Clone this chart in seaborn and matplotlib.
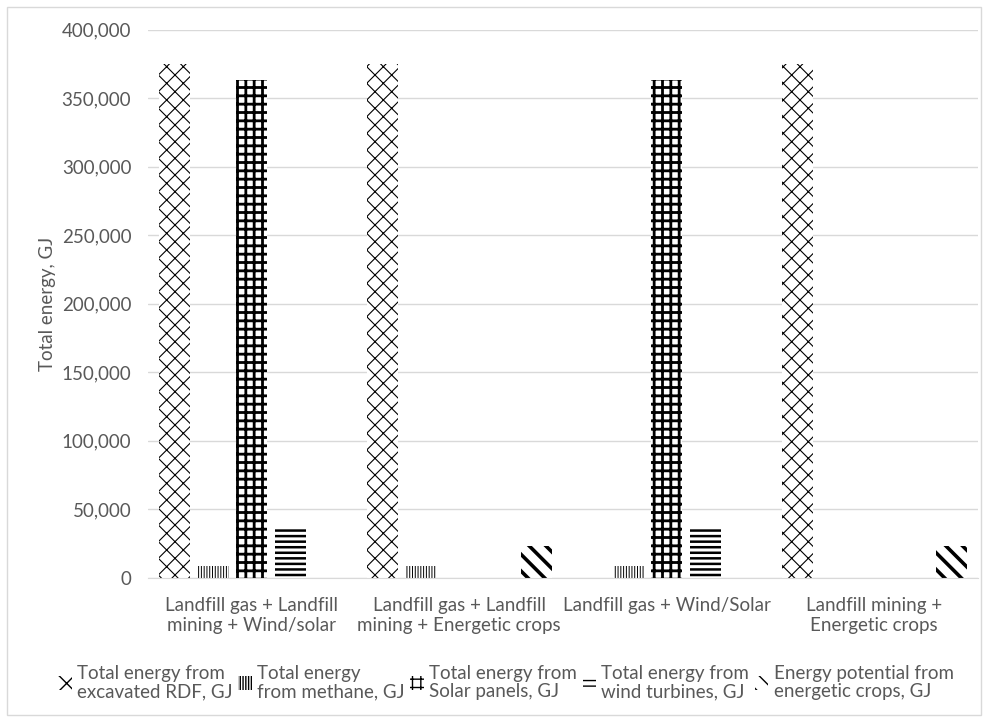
import matplotlib
matplotlib.use("Agg")
import matplotlib.pyplot as plt
from matplotlib.patches import Patch, Rectangle
from matplotlib.ticker import FuncFormatter
import seaborn as sns
import pandas as pd

# ------------------------------------------------------------------
# dados
# ------------------------------------------------------------------
scenarios = [
    "Landfill gas + Landfill\nmining + Wind/solar",
    "Landfill gas + Landfill\nmining + Energetic crops",
    "Landfill gas + Wind/Solar",
    "Landfill mining +\nEnergetic crops",
]
series = [
    "Total energy from\nexcavated RDF, GJ",
    "Total energy\nfrom methane, GJ",
    "Total energy from\nSolar panels, GJ",
    "Total energy from\nwind turbines, GJ",
    "Energy potential from\nenergetic crops, GJ",
]
rdf_energy = [375000, 375000, 0, 375000]
methane_energy = [9000, 9000, 9000, 0]
solar_energy = [363000, 0, 363000, 0]
wind_energy = [36000, 0, 36000, 0]
crops_energy = [0, 23500, 0, 23500]

values = [rdf_energy, methane_energy, solar_energy, wind_energy, crops_energy]
df = pd.DataFrame(
    [(sc, se, v) for se, vals in zip(series, values) for sc, v in zip(scenarios, vals)],
    columns=["scenario", "series", "energy"],
)

# ------------------------------------------------------------------
# estilo
# ------------------------------------------------------------------
sns.set_style("white")
plt.rcParams["font.family"] = ["Lato", "DejaVu Sans"]
plt.rcParams["hatch.color"] = "black"
txt = "#595959"
grid = "#d9d9d9"
fs = 13.5

hatches = ["xx", "||||||", "++", "---", "\\\\"]
hatch_lw = [0.8, 0.7, 2.0, 1.8, 2.6]

fig = plt.figure(figsize=(9.88, 7.22), dpi=100)
ax = fig.add_axes([148 / 988, 1 - 578 / 722, (978 - 148) / 988, (578 - 29.5) / 722])

sns.barplot(
    data=df, x="scenario", y="energy", hue="series", order=scenarios, hue_order=series,
    palette=["white"] * 5, edgecolor="black", linewidth=0, width=0.928, gap=0.2,
    legend=False, ax=ax, errorbar=None,
)

for cont, h, lw in zip(ax.containers, hatches, hatch_lw):
    for bar in cont:
        bar.set_hatch(h)
        if hasattr(bar, "set_hatch_linewidth"):
            bar.set_hatch_linewidth(lw)

ax.set_ylim(0, 400000)
ax.set_yticks(range(0, 400001, 50000))
ax.yaxis.set_major_formatter(FuncFormatter(lambda v, p: f"{int(v):,}"))
ax.grid(axis="y", color=grid, linewidth=1)
ax.set_axisbelow(True)
for s in ["left", "right", "top"]:
    ax.spines[s].set_visible(False)
ax.spines["bottom"].set_color(grid)
ax.tick_params(axis="both", length=0, labelsize=fs, colors=txt, pad=12)
ax.tick_params(axis="x", pad=14)
ax.set_xlabel("")
ax.set_ylabel("Total energy, GJ", fontsize=fs, color=txt, labelpad=4)

# legenda
handles = []
for h, lw in zip(hatches, hatch_lw):
    p = Patch(facecolor="white", edgecolor="black", linewidth=0, hatch=h)
    if hasattr(p, "set_hatch_linewidth"):
        p.set_hatch_linewidth(lw)
    handles.append(p)
leg = fig.legend(
    handles, series, loc="upper center", bbox_to_anchor=(506 / 988, 1 - 648 / 722),
    ncol=5, frameon=False, fontsize=fs, labelcolor=txt, handlelength=0.7,
    handleheight=0.7, handletextpad=0.3, columnspacing=0.3,
)
for t in leg.get_texts():
    t.set_linespacing(1.1)

# moldura
fig.patches.append(Rectangle((7 / 988, 1 - 715 / 722), (981 - 7) / 988, (715 - 7) / 722,
                             transform=fig.transFigure, fill=False, edgecolor=grid, linewidth=1))

fig.savefig("out.png", dpi=100)
plt.close(fig)
